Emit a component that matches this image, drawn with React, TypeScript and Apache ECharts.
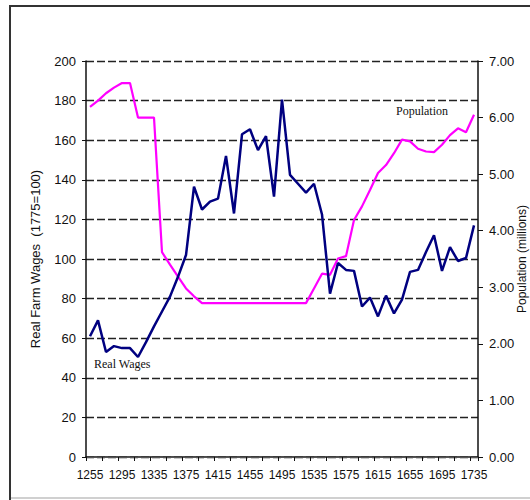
import React, { useEffect, useRef } from "react";
import * as echarts from "echarts";

const years: string[] = [];
for (let y = 1255; y <= 1735; y += 10) years.push(String(y));

const realWages = [
  61, 69, 53, 56, 55, 55, 50.5, 58, 66, 73.5,
  81, 91, 102, 136.5, 125, 129, 130.5, 152, 123, 163,
  165.5, 155, 162, 131.5, 180.5, 142.5, 138, 133.5, 138, 122.5,
  82.5, 98, 94.5, 94, 76, 80.5, 71, 81.5, 72.5, 79.5,
  93.5, 94.5, 103.5, 112, 94, 106, 99, 100.5, 117,
];

const population = [
  6.19, 6.3, 6.43, 6.53, 6.61, 6.61, 6.0, 6.0, 6.0, 3.62,
  3.4, 3.19, 2.98, 2.84, 2.72, 2.72, 2.72, 2.72, 2.72, 2.72,
  2.72, 2.72, 2.72, 2.72, 2.72, 2.72, 2.72, 2.72, 2.98, 3.24,
  3.22, 3.51, 3.55, 4.19, 4.43, 4.72, 5.02, 5.16, 5.37, 5.61,
  5.58, 5.45, 5.4, 5.39, 5.52, 5.69, 5.81, 5.74, 6.05,
];

const leftAxisName = "Real Farm Wages  (1775=100)";
const rightAxisName = "Population (millions)";
const wagesLabel = "Real Wages";
const popLabel = "Population";

const SANS = "'Liberation Sans', Arial, sans-serif";
const SERIF = "'Liberation Serif', 'Times New Roman', serif";

export default function App() {
  const ref = useRef<HTMLDivElement>(null);
  useEffect(() => {
    if (!ref.current) return;
    const chart = echarts.init(ref.current, undefined, { renderer: "svg" });
    chart.setOption({
      animation: false,
      backgroundColor: "#ffffff",
      grid: {
        left: 86,
        right: 52,
        top: 61,
        bottom: 43,
        containLabel: false,
        outerBoundsMode: "none",
      },
      xAxis: [
        {
          type: "category",
          data: years,
          boundaryGap: true,
          axisLine: { show: true, lineStyle: { color: "#111", width: 1.5 } },
          axisTick: { show: true, interval: 1, length: 4, lineStyle: { color: "#111", width: 1 } },
          axisLabel: {
            interval: 3,
            margin: 12,
            color: "#111",
            fontSize: 12,
            fontFamily: SANS,
            letterSpacing: -0.5,
          },
          splitLine: { show: false },
        },
        {
          type: "category",
          data: years,
          position: "top",
          axisLine: { show: true, lineStyle: { color: "#555", width: 1 } },
          axisTick: { show: false },
          axisLabel: { show: false },
          splitLine: { show: false },
        },
      ],
      yAxis: [
        {
          type: "value",
          min: 0,
          max: 200,
          interval: 20,
          position: "left",
          name: leftAxisName,
          nameLocation: "middle",
          nameRotate: 90,
          nameGap: 44,
          nameMoveOverlap: false,
          nameTextStyle: { color: "#111", fontSize: 13, fontFamily: SANS },
          axisLine: { show: true, lineStyle: { color: "#111", width: 1.5 } },
          axisTick: { show: true, length: 4, lineStyle: { color: "#111" } },
          axisLabel: { margin: 10, color: "#111", fontSize: 13, fontFamily: SANS },
          splitLine: { show: true, lineStyle: { color: "#222", width: 1.3, type: [8, 3] } },
        },
        {
          type: "value",
          min: 0,
          max: 7,
          interval: 1,
          position: "right",
          name: rightAxisName,
          nameLocation: "middle",
          nameRotate: 90,
          nameGap: 38,
          nameMoveOverlap: false,
          nameTextStyle: { color: "#111", fontSize: 12, fontFamily: SANS },
          axisLine: { show: true, lineStyle: { color: "#111", width: 1.5 } },
          axisTick: { show: true, length: 5, lineStyle: { color: "#111" } },
          axisLabel: {
            margin: 11,
            color: "#111",
            fontSize: 13,
            fontFamily: SANS,
            formatter: (v: number) => v.toFixed(2),
          },
          splitLine: { show: false },
        },
      ],
      series: [
        {
          name: "Population",
          type: "line",
          yAxisIndex: 1,
          data: population,
          symbol: "none",
          lineStyle: { color: "#ff00ff", width: 2.2 },
          itemStyle: { color: "#ff00ff" },
        },
        {
          name: "Real Wages",
          type: "line",
          yAxisIndex: 0,
          data: realWages,
          symbol: "none",
          lineStyle: { color: "#000080", width: 2.5 },
          itemStyle: { color: "#000080" },
        },
      ],
      graphic: [
        { type: "line", shape: { x1: 10, y1: 6, x2: 10, y2: 500 }, style: { stroke: "#333", lineWidth: 2 } },
        { type: "line", shape: { x1: 9, y1: 6, x2: 530, y2: 6 }, style: { stroke: "#333", lineWidth: 2 } },
        { type: "line", shape: { x1: 11, y1: 498, x2: 530, y2: 498 }, style: { stroke: "#d0d0d0", lineWidth: 2 } },
        {
          type: "text",
          left: 94,
          top: 358,
          style: { text: wagesLabel, fill: "#111", font: `12px ${SERIF}` },
        },
        {
          type: "text",
          left: 396,
          top: 105,
          style: { text: popLabel, fill: "#111", font: `12px ${SERIF}` },
        },
      ],
    });
    return () => chart.dispose();
  }, []);
  return (
    <div
      ref={ref}
      style={{ position: "absolute", left: 0, top: 0, width: 530, height: 500 }}
    />
  );
}
